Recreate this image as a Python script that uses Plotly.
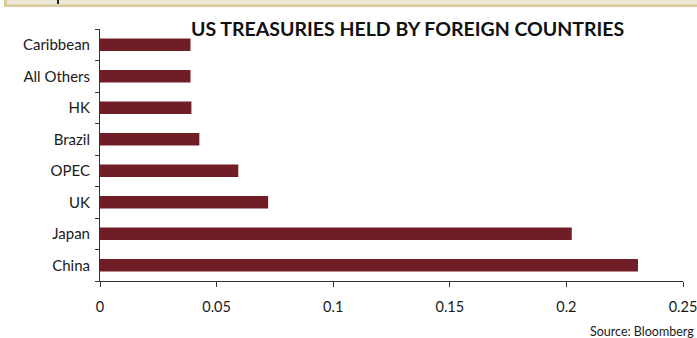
import plotly.graph_objects as go

# Holdings of US Treasuries by country (share of foreign-held total)
countries = ["China", "Japan", "UK", "OPEC", "Brazil", "HK", "All Others", "Caribbean"]
shares = [0.2307, 0.2023, 0.0721, 0.0593, 0.0426, 0.0392, 0.0388, 0.0388]
x_ticks = [0, 0.05, 0.1, 0.15, 0.2, 0.25]
x_tick_text = ["0", "0.05", "0.1", "0.15", "0.2", "0.25"]

W, H = 697, 338
L, R, T, B = 100, 14, 29, 57
PW, PH = W - L - R, H - T - B

BAR_COLOR = "#701d26"
AXIS_COLOR = "#333333"
FONT = "Lato"


def px_x(p):
    return (p - L) / PW


def px_y(p):
    return 1 - (p - T) / PH


fig = go.Figure(
    go.Bar(
        x=shares,
        y=countries,
        orientation="h",
        marker=dict(color=BAR_COLOR, line=dict(width=0)),
        hoverinfo="x+y",
    )
)

shapes = [
    # header band across the top edge
    dict(type="rect", xref="paper", yref="paper",
         x0=px_x(4), x1=px_x(W + 5), y0=px_y(7), y1=px_y(-5),
         fillcolor="#d9c99d", line=dict(width=0), layer="above"),
    dict(type="rect", xref="paper", yref="paper",
         x0=px_x(7), x1=px_x(W + 5), y0=px_y(4.5), y1=px_y(-5),
         fillcolor="#ede7d5", line=dict(width=0), layer="above"),
    dict(type="rect", xref="paper", yref="paper",
         x0=px_x(57), x1=px_x(59), y0=px_y(4), y1=px_y(0),
         fillcolor="#222222", line=dict(width=0), layer="above"),
]

fig.update_layout(
    width=W,
    height=H,
    margin=dict(l=L, r=R, t=T, b=B, pad=0, autoexpand=False),
    paper_bgcolor="white",
    plot_bgcolor="white",
    showlegend=False,
    bargap=0.6,
    font=dict(family=FONT, size=15, color="#1a1a1a"),
    shapes=shapes,
    annotations=[
        dict(text="<b>US TREASURIES HELD BY FOREIGN COUNTRIES</b>",
             xref="paper", yref="paper", x=px_x(407), y=px_y(28),
             xanchor="center", yanchor="middle", showarrow=False,
             font=dict(family=FONT, size=19.5, color="#111111")),
        dict(text="Source: Bloomberg",
             xref="paper", yref="paper", x=px_x(696), y=px_y(331.5),
             xanchor="right", yanchor="middle", showarrow=False,
             font=dict(family=FONT, size=12.5, color="#1a1a1a")),
    ],
    xaxis=dict(
        range=[0, 0.25],
        tickvals=x_ticks,
        ticktext=x_tick_text,
        showgrid=False,
        zeroline=False,
        showline=True,
        linecolor=AXIS_COLOR,
        linewidth=1,
        ticks="outside",
        ticklen=5,
        tickcolor=AXIS_COLOR,
        tickfont=dict(size=14.5),
        ticklabelstandoff=8,
        ticklabeloverflow="allow",
        automargin=False,
        fixedrange=True,
    ),
    yaxis=dict(
        categoryorder="array",
        categoryarray=countries,
        showgrid=False,
        zeroline=False,
        showline=True,
        linecolor=AXIS_COLOR,
        linewidth=1,
        ticks="outside",
        tickson="boundaries",
        ticklen=4,
        tickcolor=AXIS_COLOR,
        tickfont=dict(size=15),
        ticklabelstandoff=6,
        automargin=False,
        fixedrange=True,
    ),
)

fig.write_html("out.html")
